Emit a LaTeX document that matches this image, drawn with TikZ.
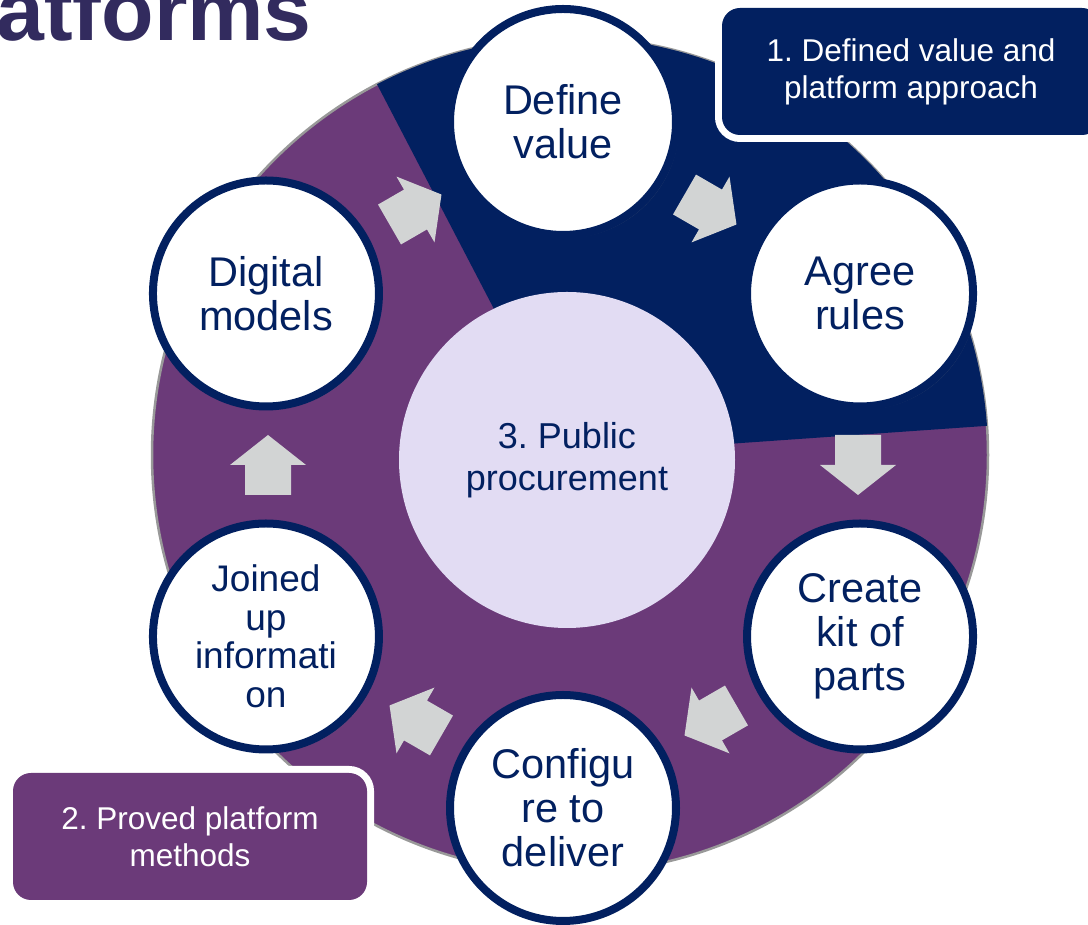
\documentclass[tikz,border=0pt]{standalone}
\usepackage{fontspec}
\setmainfont{Liberation Sans}
\frenchspacing
\usetikzlibrary{calc}
\usetikzlibrary{shadows}
\definecolor{platnavy}{RGB}{2,32,96}
\definecolor{platpurple}{RGB}{107,58,121}
\definecolor{platlilac}{RGB}{226,220,243}
\definecolor{platgray}{RGB}{210,212,212}
\definecolor{plattitle}{RGB}{50,43,94}
\tikzset{
    stepcircle/.style={
    circle, draw=platnavy, line width=8pt, fill=white,
    minimum size=226pt, inner sep=0pt, align=center, text=platnavy,
    font=\fontsize{41.5}{44}\selectfont,
    drop shadow={shadow xshift=3pt, shadow yshift=-3pt, opacity=.3}
    },
    hubcircle/.style={
    circle, fill=platlilac, minimum size=336pt, inner sep=0pt,
    align=center, text=platnavy, font=\fontsize{36}{42}\selectfont
    },
    callout/.style={
    rectangle, rounded corners=18pt, inner sep=0pt, align=center, text=white,
    minimum height=127pt, font=\fontsize{31.5}{37}\selectfont,
    preaction={draw=white, line width=14pt}
    },
    blockarrow/.pic={
    \fill[platgray] (-30,-23) -- (0,-23) -- (0,-38) -- (30,0) -- (0,38) -- (0,23) -- (-30,23) -- cycle;
    }
}

\begin{document}
\begin{tikzpicture}[x=1pt,y=1pt]
\useasboundingbox (0,0) rectangle (1088,925);
\clip (0,0) rectangle (1088,925);
\coordinate (P) at (570,470);
\coordinate (H) at (563,460);

% pie and navy sector
\filldraw[fill=platpurple, draw=gray!80, line width=2.5pt] (P) circle[radius=418];
\fill[platnavy] (P) -- ++(4:418) arc[start angle=4, end angle=117.5, radius=418] -- cycle;

\node[hubcircle] (hub) at (567,465) {3. Public\\procurement};

% arrows round the cycle
\foreach \a in {180,120,60,0,-60,-120}
    \path (H) ++(\a:295) pic[rotate=\a-90] {blockarrow};

\node[stepcircle] (define) at ($(H)+(90:343)$) {Define\\value};
\node[stepcircle] (agree) at ($(H)+(30:343)$) {Agree\\rules};
\node[stepcircle] (kit) at ($(H)+(-30:343)$) {Create\\kit of\\parts};
\node[stepcircle] (configure) at ($(H)+(-90:343)$) {Configu\\re to\\deliver};
\node[stepcircle, font=\fontsize{37}{38.5}\selectfont] (joined) at ($(H)+(-150:343)$) {Joined\\up\\informati\\on};
\node[stepcircle] (digital) at ($(H)+(150:343)$) {Digital\\models};

\node[anchor=base east, inner sep=0pt, text=plattitle, font=\bfseries\fontsize{86}{86}\selectfont] (title) at (312,884) {Platforms};

\node[callout, fill=platnavy, minimum width=378pt] (approach) at (911,853.5) {1. Defined value and\\platform approach};
\node[callout, fill=platpurple, minimum width=354pt] (methods) at (190,88.5) {2. Proved platform\\methods};
\end{tikzpicture}
\end{document}
